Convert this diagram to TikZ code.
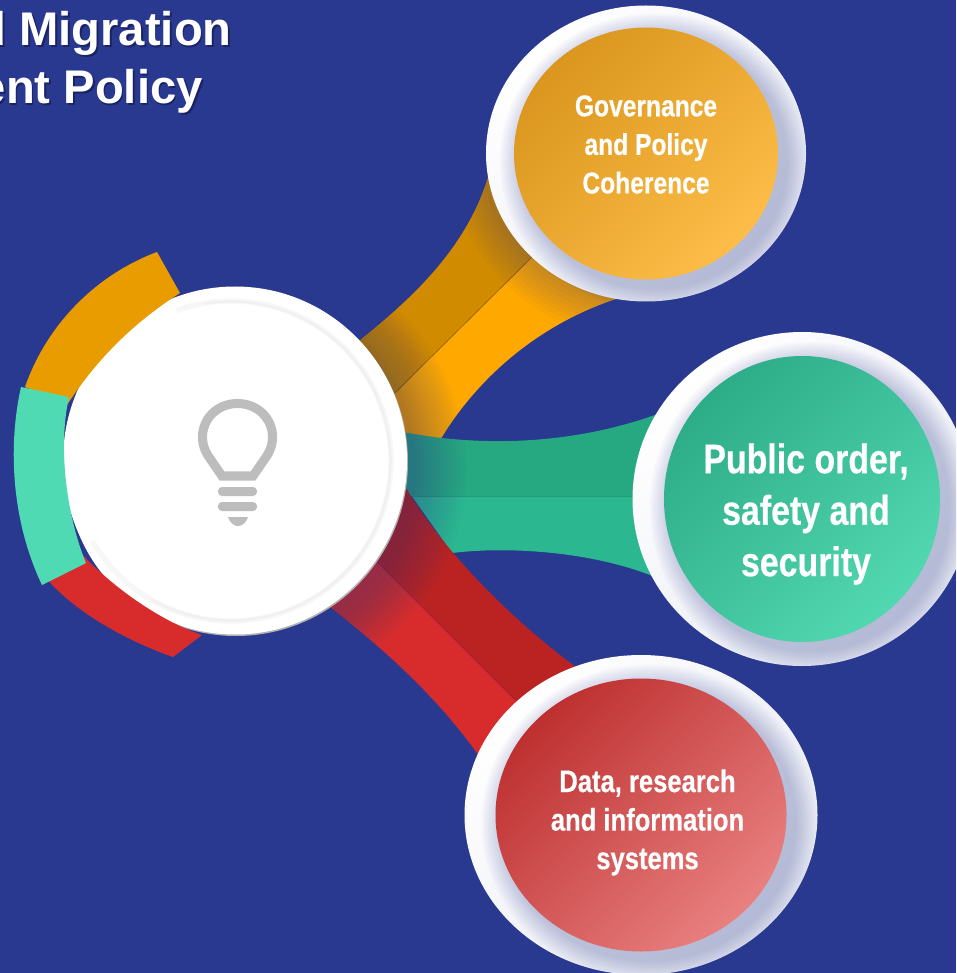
\documentclass[tikz,border=0pt]{standalone}
\usepackage{fontspec}
\setmainfont{Liberation Sans}
\newfontfamily\condfont[FakeStretch=0.82,FakeBold=0.4]{Liberation Sans Bold}
\definecolor{bgblue}{HTML}{2A3990}
\definecolor{ydark}{HTML}{D18B00}
\definecolor{ylight}{HTML}{FFA800}
\definecolor{tdark}{HTML}{26A880}
\definecolor{tlight}{HTML}{2BB78F}
\definecolor{rdark}{HTML}{BB2323}
\definecolor{rlight}{HTML}{D82C2C}
\definecolor{arcy}{HTML}{E89C00}
\definecolor{arct}{HTML}{50DAB4}
\definecolor{arcr}{HTML}{D82C2C}
\definecolor{bulb}{HTML}{BDBDBD}
\definecolor{tshadow}{HTML}{1A2464}
\definecolor{ringlow}{HTML}{E6E8F2}
\definecolor{gold1}{HTML}{DA961E}
\definecolor{gold2}{HTML}{FDBD48}
\definecolor{green1}{HTML}{2DAC88}
\definecolor{green2}{HTML}{52D8B0}
\definecolor{rose1}{HTML}{BE3030}
\definecolor{rose2}{HTML}{E98080}
\newcommand\shtext[1]{\leavevmode\rlap{\kern1.3pt\raisebox{-1.3pt}{\textcolor{tshadow}{#1}}}#1}
\tikzset{
  titletext/.style={text=white,font=\fontsize{35.4}{42}\selectfont\bfseries,inner sep=0pt,anchor=base east},
  disctext/.style={text=white,align=center,inner sep=0pt},
  smalltext/.style={disctext,font=\condfont\fontsize{22.5}{28.9}\selectfont},
  midtext/.style={disctext,font=\condfont\fontsize{23.4}{28.9}\selectfont},
  bigtext/.style={disctext,font=\condfont\fontsize{31}{38.6}\selectfont},
  softshadow/.style={fill=bgblue,fill opacity=0.027,draw=none},
  bulbline/.style={draw=bulb,line width=6.8pt,line join=miter,fill=none},
  bandline/.style={line width=0.5pt,draw=#1,draw opacity=.55}
}
% cx cy orx ory irx iry c1 c2
\newcommand\discdraw[8]{%
  \shade[top color=white,bottom color=ringlow,shading angle=45] (#1,#2) ellipse [x radius=#3,y radius=#4];
  \foreach \k in {0,...,9}{%
    \fill[softshadow] ({#1+8},{#2+8}) ellipse [x radius={#5+22-2.2*\k},y radius={#6+22-2.2*\k}];
  }
  \shade[top color=#7,bottom color=#8,shading angle=45] (#1,#2) ellipse [x radius=#5,y radius=#6];
}
\begin{document}
\begin{tikzpicture}[x=0.75pt,y=-0.75pt]
\useasboundingbox (0,0) rectangle (956,973);
\clip (0,0) rectangle (956,973);
\fill[bgblue] (0,0) rectangle (956,973);

% yellow band
\fill[ydark] (340,356) -- (360,340) .. controls (410,300) and (465,250) .. (487,180) -- (510,130)
  -- (600,190) -- (532,257) -- (395,393) -- (370,418) -- cycle;
\fill[ylight] (370,418) -- (395,393) -- (532,257) -- (600,190) -- (660,285) -- (613,300)
  .. controls (540,325) and (480,375) .. (442,437) -- (420,470) -- cycle;
\draw[bandline=black!60!ydark] (395,393) -- (532,257);

% teal band
\fill[tdark] (380,428) -- (403,432) .. controls (480,447) and (570,445) .. (655,415) -- (690,400)
  -- (690,496) -- (380,496) -- cycle;
\fill[tlight] (380,496) -- (690,496) -- (690,590) -- (650,575)
  .. controls (590,552) and (510,546) .. (452,553) -- (406,488) -- cycle;
\draw[bandline=tdark!80!black] (408,496) -- (650,496);

% red band
\fill[rdark] (385,460) -- (406,488) .. controls (440,545) and (500,610) .. (573,665) -- (610,690)
  -- (560,745) -- (515,700) -- (377,562) -- (350,535) -- cycle;
\fill[rlight] (350,535) -- (377,562) -- (515,700) -- (560,745) -- (500,785) -- (477,753)
  .. controls (435,695) and (385,650) .. (330,607) -- (310,592) -- cycle;
\draw[bandline=rdark!70!blue] (377,562) -- (515,700);

% blue glow of the bands next to the hub
\foreach \k in {0,...,23}{
  \fill[bgblue,fill opacity=0.015] (242,470) circle ({172+2.2*(\k+1)});
}

% hub
\fill[black!30] (236,462) ellipse [x radius=172,y radius=174];
\fill[white] (235,460.5) ellipse [x radius=172,y radius=174];
\fill[white] (63,460) .. controls (66,520) and (90,575) .. (133,600) -- (200,500) -- cycle;
\draw[black!3,line width=4pt] (231,461) ++(-110:160) arc[start angle=-110,end angle=150,radius=160];
\draw[black!6,line width=1.6pt] (231,461) ++(-100:159.5) arc[start angle=-100,end angle=120,radius=159.5];

% bulb
\draw[bulbline] (222,476) -- (211,460)
  .. controls (205,452) and (202.5,445) .. (202.5,437)
  .. controls (202.5,418) and (218,403.5) .. (237.5,403.5)
  .. controls (257,403.5) and (272.5,418) .. (272.5,437)
  .. controls (272.5,445) and (270,452) .. (264,460)
  -- (253,476) -- cycle;
\fill[bulb,rounded corners=3pt] (218,487) rectangle (257,496);
\fill[bulb,rounded corners=3pt] (218,502) rectangle (257,511);
\fill[bulb] (228,517) -- (248,517) .. controls (246,523) and (242,526) .. (238,526) .. controls (234,526) and (230,523) .. (228,517) -- cycle;

% left arcs
\fill[arcy] (157,252) .. controls (95.5,275) and (46.6,325) .. (25,387)
  -- (67,405) .. controls (95,362) and (130,325) .. (180,293) -- cycle;
\fill[arcr] (46,578) .. controls (75,612) and (125,640) .. (173,657)
  -- (202,635) .. controls (158,620) and (110,585) .. (80,552) -- cycle;
\fill[arct] (21,387) .. controls (8,445) and (11,520) .. (42,585)
  -- (86,563) .. controls (68,520) and (57,450) .. (69,397) -- cycle;

% shadow of the gold disc on its band
\foreach \k in {0,...,8}{
  \fill[bgblue,fill opacity=0.03] (646,156) ellipse [x radius={160+4.5*\k},y radius={148+4.5*\k}];
}

% discs
\discdraw{646}{153.5}{160}{148}{132}{126}{gold1}{gold2}
\discdraw{802}{499}{169.5}{167}{138}{143}{green1}{green2}
\discdraw{641}{815}{176.5}{160}{145.5}{136.5}{rose1}{rose2}

% texts
\node[titletext] (titleA) at (232,46) {\shtext{d Migration}};
\node[titletext] (titleB) at (203,104) {\shtext{ent Policy}};
\node[smalltext] (gov) at (646,144.5) {Governance\\and Policy\\Coherence};
\node[bigtext] (pub) at (806,514) {Public order,\\safety and\\security};
\node[midtext] (data) at (647.5,822.5) {Data, research\\and information\\systems};
\end{tikzpicture}
\end{document}
